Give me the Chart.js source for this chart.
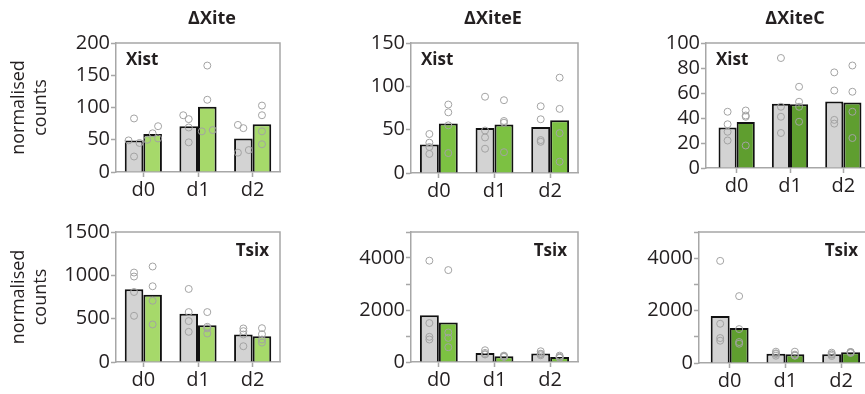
<!DOCTYPE html>
<html>
<head>
<meta charset="utf-8">
<script src="https://cdn.jsdelivr.net/npm/chart.js@4.4.1/dist/chart.umd.min.js"></script>
<style>
  html, body { margin: 0; padding: 0; background: #fff; overflow: hidden; }
  body { width: 865px; height: 394px; position: relative; }
  canvas { position: absolute; }
</style>
</head>
<body>
<canvas id="p1"></canvas>
<canvas id="p2"></canvas>
<canvas id="p3"></canvas>
<canvas id="p4"></canvas>
<canvas id="p5"></canvas>
<canvas id="p6"></canvas>
<script>
// categories
var days = ['d0', 'd1', 'd2'];

// dXite, Xist
var xiteXistGreyBar = [49, 71, 52];
var xiteXistGreenBar = [59, 101, 74];
var xiteXistGreyPts = [[83, 49, 45, 24], [88, 82, 69, 46], [73, 68, 30, 34]];
var xiteXistGreenPts = [[50, 60, 71, 52], [165, 112, 63, 65], [103, 88, 63, 43]];
var xiteXistGreyJit = [[0, -1, 1, 0], [-1, 0, 0, 0], [-1, 0, -1, 1]];
var xiteXistGreenJit = [[-1, 0, 1, 1], [0, 0, -1, 1], [0, 0, 0, 0]];
var xiteXistTicks = [0, 50, 100, 150, 200];

// dXiteE, Xist
var xiteEXistGreyBar = [33, 52, 53];
var xiteEXistGreenBar = [57, 56, 61];
var xiteEXistGreyPts = [[45, 35, 30, 22], [88, 49, 41, 28], [77, 62, 38, 36]];
var xiteEXistGreenPts = [[79, 70, 55, 23], [84, 60, 58, 24], [110, 74, 46, 13]];
var xiteEXistTicks = [0, 50, 100, 150];

// dXiteC, Xist
var xiteCXistGreyBar = [32.5, 51.5, 53.3];
var xiteCXistGreenBar = [36.8, 51, 52.5];
var xiteCXistGreyPts = [[45, 35, 29, 22], [88, 49, 41, 28], [76.5, 62, 38.5, 35.5]];
var xiteCXistGreenPts = [[46, 42, 41, 18], [65, 53, 49, 37], [82, 61, 45, 24]];
var xiteCXistTicks = [0, 20, 40, 60, 80, 100];

// dXite, Tsix
var xiteTsixGreyBar = [839, 557, 317];
var xiteTsixGreenBar = [777, 425, 298];
var xiteTsixGreyPts = [[1032, 986, 808, 533], [843, 576, 472, 348], [387, 356, 317, 182]];
var xiteTsixGreenPts = [[1102, 874, 707, 433], [576, 406, 389, 329], [390, 321, 259, 224]];
var xiteTsixTicks = [0, 500, 1000, 1500];

// dXiteE, Tsix
var xiteETsixGreyBar = [1794, 348, 323];
var xiteETsixGreenBar = [1523, 219, 194];
var xiteETsixGreyPts = [[3897, 1497, 968, 865], [452, 350, 297, 293], [413, 320, 301, 258]];
var xiteETsixGreenPts = [[3535, 1135, 929, 568], [245, 230, 207, 194], [245, 200, 168, 163]];
var tsixTicks = [0, 1000, 2000, 3000, 4000, 5000];
var tsixTickLabels = ['0', '', '2000', '', '4000', ''];

// dXiteC, Tsix
var xiteCTsixGreyBar = [1790, 356, 330];
var xiteCTsixGreenBar = [1333, 330, 406];
var xiteCTsixGreyPts = [[3898, 1498, 952, 851], [432, 370, 343, 279], [394, 340, 319, 267]];
var xiteCTsixGreenPts = [[2552, 1295, 800, 736], [432, 320, 289, 279], [420, 417, 406, 381]];

var FONT = '"Open Sans", "Noto Sans", sans-serif';
var TEXT = '#231f20';
var AXIS = '#a7a7a7';
var GREY = '#d3d3d3';
var CAT_PCT = 0.68;

// frame (top/right), column title and gene label
var panelText = {
  id: 'panelText',
  afterDraw: function(chart, args, o) {
    var ctx = chart.ctx, a = chart.chartArea;
    ctx.save();
    ctx.strokeStyle = AXIS;
    ctx.lineWidth = 1.5;
    ctx.beginPath();
    ctx.moveTo(a.left, a.top);
    ctx.lineTo(a.right, a.top);
    ctx.lineTo(a.right, a.bottom);
    ctx.stroke();
    ctx.fillStyle = TEXT;
    ctx.textBaseline = 'middle';
    if (o.title) {
      ctx.font = 'bold 18px ' + FONT;
      ctx.textAlign = 'center';
      ctx.fillText(o.title, o.titleX, 19);
    }
    ctx.font = 'bold 17px ' + FONT;
    if (o.geneLeft) {
      ctx.textAlign = 'left';
      ctx.fillText(o.gene, a.left + 10, a.top + 17);
    } else {
      ctx.textAlign = 'right';
      ctx.fillText(o.gene, a.right - 11, a.top + 19);
    }
    ctx.restore();
  }
};

function pointData(pts, side, jit) {
  var out = [];
  for (var i = 0; i < pts.length; i++) {
    for (var j = 0; j < pts[i].length; j++) {
      var dx = jit ? jit[i][j] * 0.1 : 0;
      out.push({x: i + side * CAT_PCT / 4 + dx, y: pts[i][j]});
    }
  }
  return out;
}

function barData(vals) {
  return vals.map(function(v, i) { return {x: i, y: v}; });
}

function makePanel(p) {
  var cv = document.getElementById(p.id);
  cv.width = p.w; cv.height = p.h;
  cv.style.left = p.left + 'px';
  cv.style.top = p.top + 'px';
  var pointStyle = {
    type: 'scatter', order: 0, showLine: false,
    pointRadius: 3.5, pointBorderWidth: 1, pointBorderColor: '#a3a3a3',
    pointBackgroundColor: 'rgba(0,0,0,0)'
  };
  var ds = [
    Object.assign({data: pointData(p.greyPts, -1, p.greyJit)}, pointStyle),
    Object.assign({data: pointData(p.greenPts, 1, p.greenJit)}, pointStyle),
    {type: 'bar', order: 1, data: barData(p.greyBar), backgroundColor: GREY, borderColor: '#111', borderWidth: 2, borderSkipped: 'bottom'},
    {type: 'bar', order: 1, data: barData(p.greenBar), backgroundColor: p.green, borderColor: '#111', borderWidth: 2, borderSkipped: 'bottom'}
  ];
  new Chart(cv, {
    type: 'bar',
    data: {datasets: ds},
    plugins: [panelText],
    options: {
      responsive: false,
      animation: false,
      devicePixelRatio: 1,
      categoryPercentage: CAT_PCT,
      barPercentage: 1,
      layout: {padding: {top: p.padTop, right: p.padRight, left: 0, bottom: 0}},
      plugins: {
        legend: {display: false},
        tooltip: {enabled: false},
        panelText: {title: p.title, titleX: p.titleX, gene: p.gene, geneLeft: p.geneLeft}
      },
      scales: {
        x: {
          type: 'linear', min: p.xmin, max: 2.5, offset: false,
          afterBuildTicks: function(s) { s.ticks = days.map(function(d, i) { return {value: i}; }); },
          afterFit: function(s) { s.height = p.xh; },
          ticks: {callback: function(v) { return days[v]; }, font: {family: FONT, size: 20}, color: TEXT, padding: 1, maxRotation: 0, autoSkip: false},
          grid: {offset: false, drawOnChartArea: false, tickLength: 5, tickColor: AXIS, tickWidth: 1.5},
          border: {color: AXIS, width: 1.5}
        },
        y: {
          min: 0, max: p.ticks[p.ticks.length - 1],
          afterBuildTicks: function(s) { s.ticks = p.ticks.map(function(v) { return {value: v}; }); },
          afterFit: function(s) { s.width = p.yw; },
          ticks: {
            callback: function(v, i) { return p.labels ? p.labels[i] : String(v); },
            font: {family: FONT, size: 20}, color: TEXT, padding: 1, autoSkip: false
          },
          grid: {drawOnChartArea: false, tickLength: 5, tickColor: AXIS, tickWidth: 1.5},
          border: {color: AXIS, width: 1.5},
          title: {display: !!p.yTitle, text: ['normalised', 'counts'], font: {family: FONT, size: 18, lineHeight: 1.2}, color: TEXT, padding: {top: 8, bottom: 0}}
        }
      }
    }
  });
}

makePanel({id: 'p1', left: 0, top: 0, w: 300, h: 200, yw: 116, padTop: 43, padRight: 20, xh: 28, xmin: -0.5,
  title: '\u0394Xite', titleX: 212, gene: 'Xist', geneLeft: true, yTitle: true, green: '#a6d96a',
  greyBar: xiteXistGreyBar, greenBar: xiteXistGreenBar, greyPts: xiteXistGreyPts, greenPts: xiteXistGreenPts,
  greyJit: xiteXistGreyJit, greenJit: xiteXistGreenJit, ticks: xiteXistTicks});

makePanel({id: 'p2', left: 300, top: 0, w: 300, h: 200, yw: 111, padTop: 43, padRight: 22, xh: 27, xmin: -0.5,
  title: '\u0394XiteE', titleX: 193, gene: 'Xist', geneLeft: true, green: '#7cc142',
  greyBar: xiteEXistGreyBar, greenBar: xiteEXistGreenBar, greyPts: xiteEXistGreyPts, greenPts: xiteEXistGreenPts,
  ticks: xiteEXistTicks});

makePanel({id: 'p3', left: 600, top: 0, w: 275, h: 200, yw: 106, padTop: 43, padRight: 5, xh: 32, xmin: -0.575,
  title: '\u0394XiteC', titleX: 195, gene: 'Xist', geneLeft: true, green: '#5f9e2f',
  greyBar: xiteCXistGreyBar, greenBar: xiteCXistGreenBar, greyPts: xiteCXistGreyPts, greenPts: xiteCXistGreenPts,
  ticks: xiteCXistTicks});

makePanel({id: 'p4', left: 0, top: 200, w: 300, h: 194, yw: 116, padTop: 32, padRight: 20, xh: 32, xmin: -0.5,
  gene: 'Tsix', geneLeft: false, yTitle: true, green: '#a6d96a',
  greyBar: xiteTsixGreyBar, greenBar: xiteTsixGreenBar, greyPts: xiteTsixGreyPts, greenPts: xiteTsixGreenPts,
  ticks: xiteTsixTicks});

makePanel({id: 'p5', left: 300, top: 200, w: 300, h: 194, yw: 111, padTop: 32, padRight: 22, xh: 32, xmin: -0.5,
  gene: 'Tsix', geneLeft: false, green: '#7cc142',
  greyBar: xiteETsixGreyBar, greenBar: xiteETsixGreenBar, greyPts: xiteETsixGreyPts, greenPts: xiteETsixGreenPts,
  ticks: tsixTicks, labels: tsixTickLabels});

makePanel({id: 'p6', left: 600, top: 200, w: 275, h: 194, yw: 99, padTop: 32, padRight: 6, xh: 31, xmin: -0.55,
  gene: 'Tsix', geneLeft: false, green: '#5f9e2f',
  greyBar: xiteCTsixGreyBar, greenBar: xiteCTsixGreenBar, greyPts: xiteCTsixGreyPts, greenPts: xiteCTsixGreenPts,
  ticks: tsixTicks, labels: tsixTickLabels});
</script>
</body>
</html>
